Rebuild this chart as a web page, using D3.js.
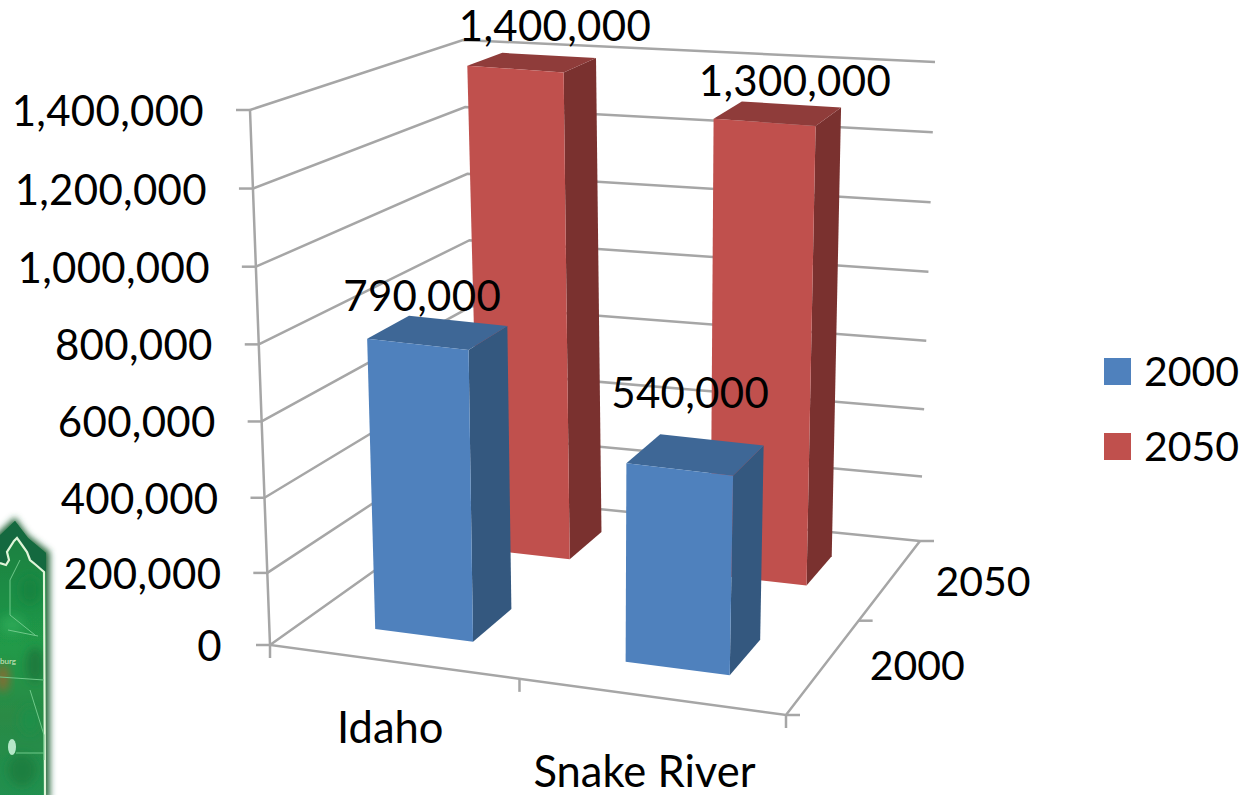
<!DOCTYPE html>
<html>
  <head>
    <meta charset="utf-8">
    <title>Population 2000 and 2050</title>
    <script src="https://d3js.org/d3.v7.min.js"></script>
    <style>
      html, body { margin: 0; padding: 0; background: #fff; }
      svg { display: block; }
      text { font-family: Lato, sans-serif; fill: #000; }
      .grid { fill: none; stroke: #a6a6a6; stroke-width: 2.5; }
    </style>
  </head>

  <body>
    <svg id="chart" width="1256" height="795">
      <defs>
        <filter id="soft" x="-30%" y="-10%" width="160%" height="120%"><feGaussianBlur stdDeviation="3"></feGaussianBlur></filter>
        <filter id="softer"><feGaussianBlur stdDeviation="0.7"></feGaussianBlur></filter>
        <filter id="blotch" x="-50%" y="-50%" width="200%" height="200%"><feGaussianBlur stdDeviation="5"></feGaussianBlur></filter>
        <clipPath id="landClip"><path d="M-5,540L15,521L28,538L46,553L46,800L-5,800Z"></path></clipPath>
        <linearGradient id="land" x1="0" y1="0" x2="0" y2="1">
          <stop offset="0" stop-color="#1c7c40"></stop>
          <stop offset="0.45" stop-color="#209a48"></stop>
          <stop offset="0.7" stop-color="#2a8a45"></stop>
          <stop offset="1" stop-color="#1f9050"></stop>
        </linearGradient>
      </defs>
      <g id="mapGroup"></g>
      <g id="gridGroup"></g>
      <g id="barGroup"></g>
      <g id="labelGroup"></g>
      <g id="legendGroup"></g>
    </svg>

    <script>
      // data
      categories = ["Idaho", "Snake River"];
      seriesNames = ["2000", "2050"];
      values2000 = [790000, 540000];
      values2050 = [1400000, 1300000];
      valueTicks = [0, 200000, 400000, 600000, 800000, 1000000, 1200000, 1400000];
      seriesColours = ["#4f81bd", "#c0504d"];
      sideColours = ["#34587f", "#7a312f"];
      topColours = ["#3e6796", "#8f3c3a"];

      // the box of the 3d chart, as seen on screen
      floorCorners = { fl: [270, 645], fr: [786, 715], bl: [478, 497], br: [920, 541] };
      roofCorners = { fl: [250, 110], fr: [800, 170], bl: [463, 40], br: [935, 62] };

      // scales run from 0 to 1 along each edge of the box
      u = d3.scaleBand()
        .domain(categories)
        .range([0.005, 1])
        .paddingInner(0.6)
        .paddingOuter(0.3);
      v = d3.scaleBand()
        .domain(seriesNames)
        .range([-0.035, 1.008])
        .paddingInner(0.632)
        .paddingOuter(0.3);
      w = d3.scalePow()
        .exponent(1.03)
        .domain([0, 1400000])
        .range([0, 1]);

      // perspective along the floor
      uWarp = d3.scalePow().exponent(1.056);
      vWarp = d3.scalePow().exponent(0.85);

      function lerp(a, b, t) {
        return [a[0] + (b[0] - a[0]) * t, a[1] + (b[1] - a[1]) * t];
      }

      function plane(c, a, b) {
        return lerp(lerp(c.fl, c.fr, a), lerp(c.bl, c.br, a), b);
      }

      function project(a, b, c) {
        return lerp(plane(floorCorners, uWarp(a), vWarp(b)), plane(roofCorners, uWarp(a), vWarp(b)), c);
      }

      line = d3.line();
      format = d3.format(",");

      chart = d3.select("#chart");
      gridGroup = d3.select("#gridGroup");
      barGroup = d3.select("#barGroup");
      labelGroup = d3.select("#labelGroup");
      legendGroup = d3.select("#legendGroup");

      drawMap();
      drawGrid();
      drawBars();
      drawAxisText();
      drawLegend();

      function drawGrid() {
        // walls
        gridGroup.selectAll(".wall")
          .data(valueTicks)
          .enter().append("path")
            .attr("class", "grid wall")
            .attr("d", d => line([project(0, 0, w(d)), project(0, 1, w(d)), project(1, 1, w(d))]));

        // axis edges
        gridGroup.append("path")
          .attr("class", "grid")
          .attr("d", line([project(0, 0, 1), project(0, 0, 0), project(1, 0, 0), project(1, 1, 0)]));

        // value ticks
        gridGroup.selectAll(".valueTick")
          .data(valueTicks)
          .enter().append("path")
            .attr("class", "grid valueTick")
            .attr("d", d => {
              let p = project(0, 0, w(d));
              return line([p, [p[0] - 14, p[1]]]);
            });

        // category ticks
        let uMid = (u(categories[0]) + u.bandwidth() + u(categories[1])) / 2;
        gridGroup.selectAll(".catTick")
          .data([0, uMid, 1])
          .enter().append("path")
            .attr("class", "grid catTick")
            .attr("d", d => {
              let p = project(d, 0, 0);
              return line([p, [p[0], p[1] + 13]]);
            });

        // depth ticks
        let vMid = (v(seriesNames[0]) + v.bandwidth() + v(seriesNames[1])) / 2;
        gridGroup.selectAll(".depthTick")
          .data([0, vMid, 1])
          .enter().append("path")
            .attr("class", "grid depthTick")
            .attr("d", d => {
              let p = project(1, d, 0);
              return line([p, [p[0] + 14, p[1]]]);
            });
      }

      function drawBars() {
        // labels were dragged by hand in the original, so each has its own nudge
        let nudge = [[[-16, -21], [-6, -46]], [[23, -21], [17, -17]]];

        // back row first so the front row covers it
        [[1, values2050], [0, values2000]].forEach(row => {
          let s = row[0];
          row[1].forEach((value, i) => {
            let a0 = u(categories[i]),
                a1 = a0 + u.bandwidth(),
                b0 = v(seriesNames[s]),
                b1 = b0 + v.bandwidth(),
                h = w(value);

            let bar = barGroup.append("g");
            bar.append("path")
              .attr("fill", sideColours[s])
              .attr("d", line([project(a1, b0, 0), project(a1, b1, 0), project(a1, b1, h), project(a1, b0, h)]) + "Z");
            bar.append("path")
              .attr("fill", topColours[s])
              .attr("d", line([project(a0, b0, h), project(a1, b0, h), project(a1, b1, h), project(a0, b1, h)]) + "Z");
            bar.append("path")
              .attr("fill", seriesColours[s])
              .attr("d", line([project(a0, b0, 0), project(a1, b0, 0), project(a1, b0, h), project(a0, b0, h)]) + "Z");

            let p = project((a0 + a1) / 2, (b0 + b1) / 2, h);
            labelGroup.append("text")
              .attr("x", p[0] + nudge[s][i][0])
              .attr("y", p[1] + nudge[s][i][1])
              .attr("text-anchor", "middle")
              .style("font-size", "42px")
              .style("letter-spacing", "0.3px")
              .text(format(value));
          });
        });
      }

      function drawAxisText() {
        labelGroup.selectAll(".valueLabel")
          .data(valueTicks)
          .enter().append("text")
            .attr("class", "valueLabel")
            .attr("x", d => project(0, 0, w(d))[0] - (d ? 46 : 48))
            .attr("y", d => project(0, 0, w(d))[1] + 16)
            .attr("text-anchor", "end")
            .style("font-size", "42px")
            .style("letter-spacing", "0.3px")
            .text(d => format(d));

        let catNudge = [[-1, -3], [-7, 5]];
        labelGroup.selectAll(".catLabel")
          .data(categories)
          .enter().append("text")
            .attr("class", "catLabel")
            .attr("x", (d, i) => project(u(d) + u.bandwidth() / 2, 0, 0)[0] + catNudge[i][0])
            .attr("y", (d, i) => project(u(d) + u.bandwidth() / 2, 0, 0)[1] + 85 + catNudge[i][1])
            .attr("text-anchor", "middle")
            .style("font-size", "43.5px")
            .text(d => d);

        let depthNudge = [[94, 13], [92, 17]];
        labelGroup.selectAll(".depthLabel")
          .data(seriesNames)
          .enter().append("text")
            .attr("class", "depthLabel")
            .attr("x", (d, i) => project(1, v(d) + v.bandwidth() / 2, 0)[0] + depthNudge[i][0])
            .attr("y", (d, i) => project(1, v(d) + v.bandwidth() / 2, 0)[1] + depthNudge[i][1])
            .attr("text-anchor", "middle")
            .style("font-size", "41px")
            .text(d => d);
      }

      function drawLegend() {
        let items = legendGroup.selectAll("g")
          .data(seriesNames)
          .enter().append("g")
            .attr("transform", (d, i) => "translate(1104, " + (358 + i * 75) + ")");
        items.append("rect")
          .attr("width", 27)
          .attr("height", 27)
          .attr("fill", (d, i) => seriesColours[i]);
        items.append("text")
          .attr("x", 40)
          .attr("y", 27.5)
          .style("font-size", "41px")
          .text(d => d);
      }

      // corner of the slide's map picture showing behind the chart
      function drawMap() {
        let map = d3.select("#mapGroup");
        map.append("path")
          .attr("d", "M-10,540L15,517L28,535L50,552L50,800L-10,800Z")
          .attr("fill", "#2a6a40")
          .attr("filter", "url(#soft)");
        map.append("path")
          .attr("d", "M-5,540L15,521L28,538L46,553L46,800L-5,800Z")
          .attr("fill", "url(#land)")
          .attr("filter", "url(#softer)");

        let blotches = map.append("g").attr("clip-path", "url(#landClip)");
        blotches.selectAll("ellipse")
          .data([[30, 590, 10, 14, "#15843f"], [12, 625, 12, 10, "#2aa655"], [35, 665, 9, 18, "#1f7a3c"], [3, 678, 6, 14, "#8a6a30"], [30, 720, 10, 14, "#1c8f48"], [22, 770, 14, 16, "#1a7f3f"]])
          .enter().append("ellipse")
            .attr("cx", d => d[0])
            .attr("cy", d => d[1])
            .attr("rx", d => d[2])
            .attr("ry", d => d[3])
            .attr("fill", d => d[4])
            .attr("filter", "url(#blotch)");

        // dark strip outside the border
        map.append("path")
          .attr("d", "M-5,540L15,521L28,538L46,553L46,572L36,565L30,560L27,552L22,545L17,538L14,541L7,552L9,560L6,565L-5,563Z")
          .attr("fill", "#14693f");

        map.append("path")
          .attr("d", "M0,563L6,565L9,560L7,552L14,541L17,538L22,545L27,552L30,560L36,565L44,572L45,795")
          .attr("fill", "none")
          .attr("stroke", "#dff5d8")
          .attr("stroke-width", 2.2);
        map.append("path")
          .attr("d", "M20,560L10,580L10,615L35,635M0,677L44,680M30,690L44,735L44,760M16,753L44,753M8,630L38,636")
          .attr("fill", "none")
          .attr("stroke", "#6fc98a")
          .attr("stroke-width", 1);
        map.append("ellipse")
          .attr("cx", 12)
          .attr("cy", 747)
          .attr("rx", 4)
          .attr("ry", 8)
          .attr("fill", "#b5e8c8");
        map.append("text")
          .attr("x", 0)
          .attr("y", 664)
          .style("font-size", "8px")
          .style("fill", "#d5e8c0")
          .text("burg");
      }
    </script>
  </body>
</html>
